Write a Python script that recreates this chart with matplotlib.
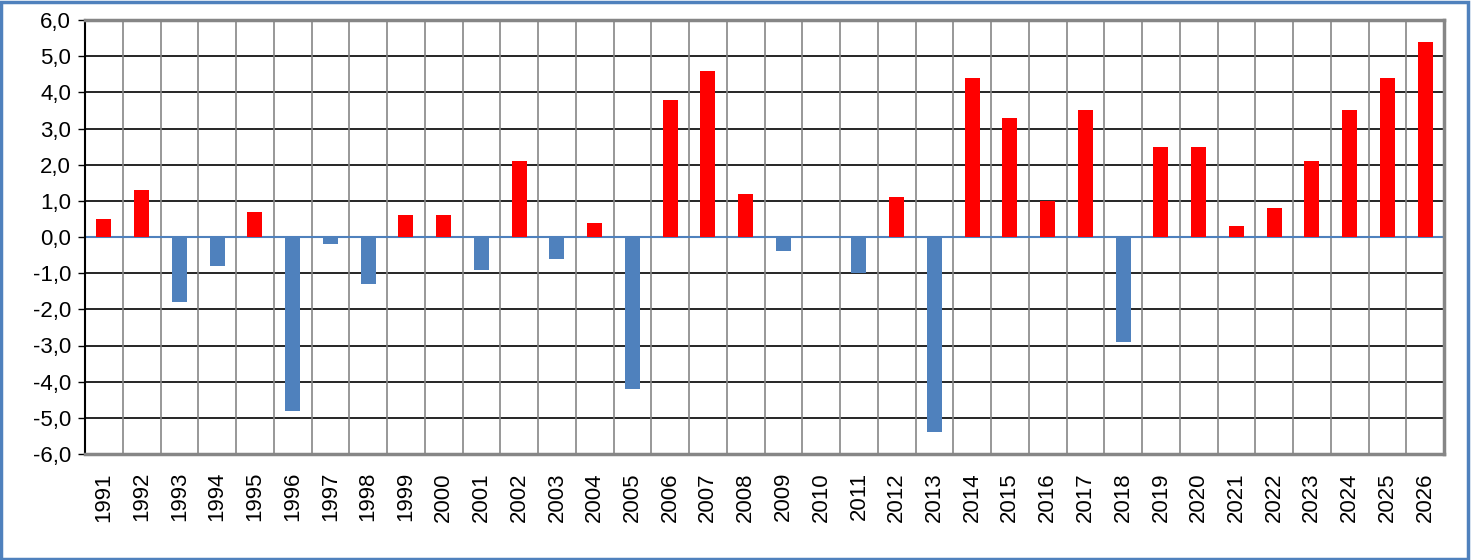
import numpy as np
import matplotlib
matplotlib.use("Agg")
from matplotlib import pyplot as plt
from matplotlib.patches import Rectangle

# Данные
years = list(range(1991, 2027))
values = [0.5, 1.3, -1.8, -0.8, 0.7, -4.8, -0.2, -1.3, 0.6, 0.6,
          -0.9, 2.1, -0.6, 0.4, -4.2, 3.8, 4.6, 1.2, -0.4, 0.0,
          -1.0, 1.1, -5.4, 4.4, 3.3, 1.0, 3.5, -2.9, 2.5, 2.5,
          0.3, 0.8, 2.1, 3.5, 4.4, 5.4]
y_ticks = np.arange(-6, 7, 1)

plt.rcParams['font.family'] = ['Liberation Sans', 'DejaVu Sans']

fig = plt.figure(figsize=(14.71, 5.6), dpi=100)
ax = fig.add_axes([85 / 1471, 1 - 454 / 560, (1444 - 85) / 1471, (454 - 20) / 560])

x = np.arange(len(years))
colors = ['#FF0000' if v > 0 else '#4F81BD' for v in values]
ax.bar(x, values, width=0.4, color=colors, zorder=3)

ax.set_xlim(-0.5, len(years) - 0.5)
ax.set_ylim(-6, 6)

# Сетка
ax.set_yticks(y_ticks)
ax.set_yticklabels([f"{t:.1f}".replace('.', ',') for t in y_ticks], fontsize=16)
for t in y_ticks:
    ax.axhline(t, color='black', lw=1.2, zorder=1)
for b in np.arange(0.5, len(years) - 0.5, 1):
    ax.axvline(b, color='#868686', lw=1.2, zorder=1)
ax.axhline(0, color='#4F81BD', lw=1.5, zorder=2)

ax.set_xticks(x)
ax.set_xticklabels([str(y) for y in years], rotation=90, fontsize=16)
ax.tick_params(axis='x', length=0, pad=13)
ax.tick_params(axis='y', length=5, width=1, color='black', pad=5)

for side in ['top', 'right', 'bottom']:
    ax.spines[side].set_color('#868686')
    ax.spines[side].set_linewidth(2.5)
ax.spines['left'].set_color('black')
ax.spines['left'].set_linewidth(1.5)

# Рамка
fig.patches.append(Rectangle((0.001, 0.002), 0.997, 0.995, transform=fig.transFigure,
                             fill=False, edgecolor='#4F81BD', lw=2.5))

fig.savefig("out.png", dpi=100)
